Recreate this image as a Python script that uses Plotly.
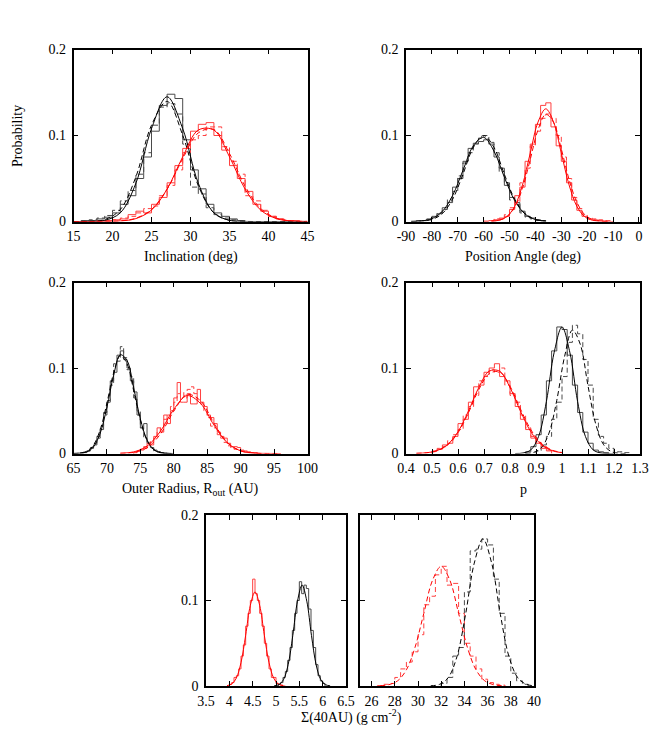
import numpy as np
import plotly.graph_objects as go

# ---------------------------------------------
# data
# ---------------------------------------------

# Inclination (deg), histogram bin width 1
inc_bin = 1.0
inc_black_start = 16.0
inc_black = [0.001, 0.001, 0.003, 0.005, 0.01, 0.02, 0.03, 0.05, 0.075, 0.105, 0.135,
             0.148, 0.143, 0.095, 0.06, 0.038, 0.02, 0.01, 0.006, 0.003, 0.001]
inc_black_dash_start = 16.0
inc_black_dash = [0.001, 0.002, 0.004, 0.007, 0.013, 0.024, 0.036, 0.055, 0.08, 0.112, 0.133,
                  0.137, 0.125, 0.09, 0.04, 0.032, 0.016, 0.008, 0.004, 0.002, 0.001]
inc_red_start = 18.0
inc_red = [0.001, 0.001, 0.002, 0.003, 0.008, 0.012, 0.01, 0.02, 0.028, 0.045, 0.065, 0.085,
           0.105, 0.113, 0.115, 0.1, 0.083, 0.065, 0.05, 0.035, 0.02, 0.012, 0.006, 0.003,
           0.001, 0.001]
inc_red_dash_start = 19.0
inc_red_dash = [0.001, 0.002, 0.004, 0.006, 0.01, 0.015, 0.018, 0.03, 0.042, 0.06, 0.08, 0.095,
                0.1, 0.11, 0.11, 0.087, 0.07, 0.055, 0.03, 0.024, 0.013, 0.006, 0.003, 0.001]
inc_fit_x = [15, 17, 19, 21, 23, 25, 27, 29, 31, 33, 35, 37, 39, 41, 43, 45]
inc_fit_black = [0.0, 0.0001, 0.0013, 0.0101, 0.0445, 0.108, 0.145, 0.108, 0.0445, 0.0101,
                 0.0013, 0.0001, 0.0, 0.0, 0.0, 0.0]
inc_fit_black_dash = [0.0, 0.0002, 0.0022, 0.0139, 0.052, 0.112, 0.1396, 0.1004, 0.0417,
                      0.010, 0.0014, 0.0001, 0.0, 0.0, 0.0, 0.0]
inc_fit_red = [0.0, 0.0, 0.0001, 0.0006, 0.0034, 0.0133, 0.0377, 0.0752, 0.1063, 0.1063,
               0.0752, 0.0377, 0.0133, 0.0034, 0.0006, 0.0001]
inc_fit_red_dash = [0.0, 0.0, 0.0001, 0.0007, 0.0038, 0.014, 0.0375, 0.073, 0.103, 0.107,
                    0.079, 0.041, 0.015, 0.004, 0.0007, 0.0001]

# Position angle (deg), bin width 2
pa_bin = 2.0
pa_black_start = -86.0
pa_black = [0.001, 0.001, 0.003, 0.006, 0.009, 0.016, 0.022, 0.04, 0.05, 0.07, 0.085, 0.091,
            0.093, 0.095, 0.09, 0.075, 0.062, 0.042, 0.028, 0.022, 0.012, 0.006, 0.004, 0.002,
            0.001]
pa_black_dash_start = -86.0
pa_black_dash = [0.0005, 0.001, 0.002, 0.005, 0.01, 0.014, 0.026, 0.035, 0.053, 0.068, 0.08,
                 0.09, 0.097, 0.1, 0.092, 0.08, 0.058, 0.045, 0.025, 0.02, 0.01, 0.005, 0.003,
                 0.001, 0.0005]
pa_red_start = -60.0
pa_red = [0.0005, 0.001, 0.002, 0.004, 0.006, 0.014, 0.03, 0.04, 0.07, 0.09, 0.113, 0.135,
          0.138, 0.11, 0.088, 0.07, 0.045, 0.025, 0.013, 0.006, 0.003, 0.002, 0.001, 0.0005, 0.0]
pa_red_dash_start = -60.0
pa_red_dash = [0.0, 0.001, 0.003, 0.003, 0.008, 0.016, 0.022, 0.045, 0.062, 0.088, 0.105, 0.12,
               0.125, 0.12, 0.1, 0.075, 0.05, 0.028, 0.015, 0.008, 0.004, 0.003, 0.002, 0.001,
               0.001]
pa_fit_black_x = [-88, -84, -80, -76, -72, -68, -64, -60, -56, -52, -48, -44, -40, -36]
pa_fit_black = [0.0001, 0.0007, 0.0033, 0.0116, 0.0302, 0.0594, 0.0879, 0.0978, 0.0818,
                0.0515, 0.0244, 0.0087, 0.0023, 0.0005]
pa_fit_black_dash = [0.0001, 0.0005, 0.0024, 0.0091, 0.0259, 0.0549, 0.0861, 0.1, 0.0861,
                     0.0549, 0.0259, 0.0091, 0.0024, 0.0005]
pa_fit_red_x = [-57, -54, -51, -48, -45, -42, -39, -36, -33, -30, -27, -24, -21, -18, -15, -12]
pa_fit_red = [0.0003, 0.0015, 0.0058, 0.0177, 0.0425, 0.0795, 0.1156, 0.131, 0.1156, 0.0795,
              0.0425, 0.0177, 0.0058, 0.0015, 0.0003, 0.0]
pa_fit_red_dash = [0.0003, 0.0015, 0.0055, 0.0164, 0.0386, 0.0722, 0.1066, 0.1246, 0.1153,
                   0.0844, 0.0489, 0.0224, 0.0081, 0.0023, 0.0005, 0.0001]
pa_tick_vals = [-90, -80, -70, -60, -50, -40, -30, -20, -10, 0]
pa_tick_text = ['-90', '-80', '-70', '-60', '-50', '-40', '-30', '-20', '-10', '0']

# Outer radius (AU), bin width 0.5
rout_bin = 0.5
rout_black_start = 66.0
rout_black = [0.001, 0.001, 0.003, 0.006, 0.01, 0.02, 0.028, 0.048, 0.06, 0.085, 0.095, 0.115,
              0.12, 0.11, 0.1, 0.085, 0.072, 0.045, 0.03, 0.035, 0.012, 0.007, 0.004, 0.002,
              0.001, 0.0005]
rout_black_dash_start = 66.0
rout_black_dash = [0.0005, 0.002, 0.003, 0.007, 0.012, 0.018, 0.032, 0.045, 0.062, 0.08, 0.105,
                   0.108, 0.125, 0.112, 0.098, 0.09, 0.065, 0.05, 0.03, 0.018, 0.013, 0.006,
                   0.003, 0.002, 0.001, 0.0]
rout_red_start = 74.0
rout_red = [0.001, 0.003, 0.004, 0.008, 0.012, 0.01, 0.02, 0.03, 0.025, 0.045, 0.035, 0.05,
            0.065, 0.083, 0.06, 0.06, 0.07, 0.058, 0.058, 0.075, 0.06, 0.055, 0.045, 0.042,
            0.035, 0.025, 0.02, 0.018, 0.012, 0.008, 0.008, 0.007, 0.004, 0.003, 0.002, 0.001,
            0.001, 0.0]
rout_red_dash_start = 74.0
rout_red_dash = [0.001, 0.002, 0.005, 0.006, 0.01, 0.015, 0.018, 0.025, 0.03, 0.04, 0.045,
                 0.055, 0.06, 0.07, 0.072, 0.065, 0.075, 0.078, 0.07, 0.062, 0.058, 0.05, 0.042,
                 0.032, 0.03, 0.022, 0.018, 0.013, 0.009, 0.007, 0.005, 0.004, 0.003, 0.002,
                 0.001, 0.001, 0.0, 0.0]
rout_fit_black_x = [65, 66, 67, 68, 69, 70, 71, 72, 73, 74, 75, 76, 77, 78, 79, 80]
rout_fit_black = [0.0, 0.0004, 0.0019, 0.0079, 0.0239, 0.0541, 0.0914, 0.1155, 0.1089, 0.0768,
                  0.0404, 0.0158, 0.0046, 0.001, 0.0002, 0.0]
rout_fit_black_dash = [0.0001, 0.0006, 0.0027, 0.01, 0.0279, 0.0589, 0.0942, 0.1144, 0.1052,
                       0.0734, 0.0389, 0.0155, 0.0047, 0.0011, 0.0002, 0.0]
rout_fit_red_x = [72, 74, 76, 78, 80, 82, 84, 86, 88, 90, 92, 94, 96]
rout_fit_red = [0.0003, 0.0019, 0.0086, 0.026, 0.0517, 0.0677, 0.0585, 0.0334, 0.0125, 0.0031,
                0.0005, 0.0001, 0.0]
rout_fit_red_dash = [0.0002, 0.0013, 0.0067, 0.0227, 0.0495, 0.069, 0.0618, 0.0355, 0.013,
                     0.0031, 0.0005, 0.0, 0.0]

# p, bin width 0.02
p_bin = 0.02
p_black_start = 0.86
p_black = [0.002, 0.008, 0.022, 0.045, 0.085, 0.12, 0.148, 0.145, 0.115, 0.08, 0.048, 0.025,
           0.012, 0.004, 0.002, 0.001, 0.0]
p_black_dash_start = 0.90
p_black_dash = [0.003, 0.01, 0.02, 0.04, 0.06, 0.09, 0.13, 0.15, 0.14, 0.11, 0.08, 0.04, 0.02,
                0.012, 0.006, 0.002, 0.002, 0.001]
p_red_start = 0.50
p_red = [0.003, 0.005, 0.01, 0.012, 0.02, 0.035, 0.04, 0.06, 0.078, 0.08, 0.095, 0.1, 0.105,
         0.09, 0.085, 0.07, 0.055, 0.04, 0.028, 0.018, 0.012, 0.006, 0.003]
p_red_dash_start = 0.50
p_red_dash = [0.002, 0.006, 0.008, 0.015, 0.022, 0.028, 0.045, 0.055, 0.068, 0.085, 0.09, 0.098,
              0.095, 0.1, 0.08, 0.068, 0.06, 0.045, 0.03, 0.02, 0.013, 0.008, 0.004]
p_fit_black_x = [0.82, 0.85, 0.88, 0.91, 0.94, 0.97, 1.0, 1.03, 1.06, 1.09, 1.12, 1.15, 1.18]
p_fit_black = [0.0, 0.0006, 0.0042, 0.02, 0.0608, 0.1185, 0.148, 0.1185, 0.0608, 0.02, 0.0042,
               0.0006, 0.0]
p_fit_black_dash_x = [0.86, 0.89, 0.92, 0.95, 0.98, 1.01, 1.04, 1.07, 1.10, 1.13, 1.16, 1.19,
                      1.22, 1.25]
p_fit_black_dash = [0.0002, 0.0012, 0.0064, 0.0239, 0.0623, 0.1135, 0.1443, 0.128, 0.0792,
                    0.0342, 0.0103, 0.0022, 0.0003, 0.0]
p_fit_red_x = [0.44, 0.48, 0.52, 0.56, 0.60, 0.64, 0.68, 0.72, 0.76, 0.80, 0.84, 0.88, 0.92,
               0.96, 1.0]
p_fit_red = [0.0002, 0.0009, 0.0035, 0.0105, 0.0255, 0.0496, 0.0772, 0.0963, 0.0963, 0.0772,
             0.0496, 0.0255, 0.0105, 0.0035, 0.0009]
p_fit_red_dash = [0.0002, 0.0009, 0.0033, 0.0099, 0.0243, 0.0475, 0.0748, 0.0934, 0.0954,
                  0.0787, 0.0522, 0.0279, 0.012, 0.0042, 0.0012]

# Sigma(40AU), left panel (solid), bin width 0.05
sig_bin = 0.05
sig_red_start = 4.0
sig_red = [0.002, 0.004, 0.01, 0.012, 0.02, 0.035, 0.048, 0.07, 0.085, 0.1, 0.125, 0.108,
           0.1, 0.085, 0.07, 0.05, 0.035, 0.02, 0.01, 0.01, 0.003, 0.002, 0.001, 0.0]
sig_black_start = 5.05
sig_black = [0.002, 0.004, 0.01, 0.017, 0.03, 0.045, 0.065, 0.085, 0.1, 0.122, 0.108, 0.118,
             0.114, 0.09, 0.065, 0.045, 0.025, 0.012, 0.006, 0.003]
sig_fit_red_x = [3.95, 4.05, 4.15, 4.25, 4.35, 4.45, 4.55, 4.65, 4.75, 4.85, 4.95, 5.05, 5.15]
sig_fit_red = [0.0004, 0.0023, 0.0093, 0.0274, 0.0594, 0.0943, 0.11, 0.0943, 0.0594, 0.0274,
               0.0093, 0.0023, 0.0004]
sig_fit_black_x = [4.96, 5.06, 5.16, 5.26, 5.36, 5.46, 5.56, 5.66, 5.76, 5.86, 5.96, 6.06, 6.16]
sig_fit_black = [0.0002, 0.0016, 0.0074, 0.0249, 0.0591, 0.0992, 0.118, 0.0992, 0.0591, 0.0249,
                 0.0074, 0.0016, 0.0002]

# Sigma(40AU), right panel (dashed), bin width 0.5
sig2_bin = 0.5
sig2_red_start = 26.5
sig2_red = [0.0005, 0.002, 0.003, 0.01, 0.02, 0.028, 0.04, 0.06, 0.095, 0.105, 0.13, 0.14,
            0.118, 0.12, 0.085, 0.05, 0.035, 0.02, 0.008, 0.004, 0.002, 0.001]
sig2_black_start = 32.0
sig2_black = [0.003, 0.01, 0.035, 0.045, 0.11, 0.158, 0.16, 0.172, 0.165, 0.125, 0.085, 0.035,
              0.015, 0.006, 0.002]
sig2_fit_red_x = [26.75, 27.5, 28.25, 29.0, 29.75, 30.5, 31.25, 32.0, 32.75, 33.5, 34.25, 35.0,
                  35.75, 36.5, 37.25]
sig2_fit_red = [0.0003, 0.0016, 0.0061, 0.0189, 0.0455, 0.0849, 0.1236, 0.14, 0.1236, 0.0849,
                0.0455, 0.0189, 0.0061, 0.0016, 0.0003]
sig2_fit_black_x = [31.1, 31.85, 32.6, 33.35, 34.1, 34.85, 35.6, 36.35, 37.1, 37.85, 38.6,
                    39.35, 40.1]
sig2_fit_black = [0.0003, 0.0019, 0.0097, 0.034, 0.0837, 0.1437, 0.172, 0.1437, 0.0837, 0.034,
                  0.0097, 0.0019, 0.0003]

# ---------------------------------------------
# layout, in pixels of the 664 x 730 page
# (the html body adds an 8 px margin round the figure)
# ---------------------------------------------
PAGE_W, PAGE_H = 664, 730
OFF = 8
W, H = PAGE_W - OFF, PAGE_H - OFF
FONT = 'Liberation Serif, Times New Roman, serif'
BLACK = '#000000'
RED = '#ff0000'
HIST_BLACK = '#4a4a4a'
HIST_RED = '#ff4040'
DASH = '5px,3px'


def fx(px):
    return (px - OFF) / W


def fy(py):
    return 1 - (py - OFF) / H


# panel boxes: left, right, top, bottom, x range, x dtick, show y labels
panels = [
    (73.5, 307.5, 49.5, 221.5, [15, 45], 5, True),
    (406, 640, 49.5, 221.5, [-90, 0.4], 10, True),
    (73.5, 307.5, 282.5, 453.5, [65, 100], 5, True),
    (406, 640, 282.5, 453.5, [0.4, 1.3], 0.1, True),
    (206, 346, 515, 686, [3.5, 6.5], 0.5, True),
    (360, 534, 515, 686, [25, 40], 2, False),
]


def step_xy(start, width, values):
    edges = start + width * np.arange(len(values) + 1)
    xs = np.concatenate([[edges[0]], edges])
    ys = [0.0] + list(values) + [0.0]
    return xs, ys


fig = go.Figure()


def add_hist(panel, start, width, values, color, dashed):
    xs, ys = step_xy(start, width, values)
    fig.add_trace(go.Scatter(
        x=xs, y=ys, mode='lines', line_shape='hv',
        line=dict(color=color, width=1, dash=DASH if dashed else 'solid'),
        xaxis='x%d' % panel, yaxis='y%d' % panel, hoverinfo='skip'))


def add_fit(panel, xs, ys, color, dashed):
    fig.add_trace(go.Scatter(
        x=xs, y=ys, mode='lines', line_shape='spline',
        line=dict(color=color, width=1, dash=DASH if dashed else 'solid', smoothing=1.0),
        xaxis='x%d' % panel, yaxis='y%d' % panel, hoverinfo='skip'))


# panel 1
add_hist(1, inc_black_start, inc_bin, inc_black, HIST_BLACK, False)
add_hist(1, inc_black_dash_start, inc_bin, inc_black_dash, HIST_BLACK, True)
add_hist(1, inc_red_start, inc_bin, inc_red, HIST_RED, False)
add_hist(1, inc_red_dash_start, inc_bin, inc_red_dash, HIST_RED, True)
add_fit(1, inc_fit_x, inc_fit_black, BLACK, False)
add_fit(1, inc_fit_x, inc_fit_black_dash, BLACK, True)
add_fit(1, inc_fit_x, inc_fit_red, RED, False)
add_fit(1, inc_fit_x, inc_fit_red_dash, RED, True)

# panel 2
add_hist(2, pa_black_start, pa_bin, pa_black, HIST_BLACK, False)
add_hist(2, pa_black_dash_start, pa_bin, pa_black_dash, HIST_BLACK, True)
add_hist(2, pa_red_start, pa_bin, pa_red, HIST_RED, False)
add_hist(2, pa_red_dash_start, pa_bin, pa_red_dash, HIST_RED, True)
add_fit(2, pa_fit_black_x, pa_fit_black, BLACK, False)
add_fit(2, pa_fit_black_x, pa_fit_black_dash, BLACK, True)
add_fit(2, pa_fit_red_x, pa_fit_red, RED, False)
add_fit(2, pa_fit_red_x, pa_fit_red_dash, RED, True)

# panel 3
add_hist(3, rout_black_start, rout_bin, rout_black, HIST_BLACK, False)
add_hist(3, rout_black_dash_start, rout_bin, rout_black_dash, HIST_BLACK, True)
add_hist(3, rout_red_start, rout_bin, rout_red, HIST_RED, False)
add_hist(3, rout_red_dash_start, rout_bin, rout_red_dash, HIST_RED, True)
add_fit(3, rout_fit_black_x, rout_fit_black, BLACK, False)
add_fit(3, rout_fit_black_x, rout_fit_black_dash, BLACK, True)
add_fit(3, rout_fit_red_x, rout_fit_red, RED, False)
add_fit(3, rout_fit_red_x, rout_fit_red_dash, RED, True)

# panel 4
add_hist(4, p_black_start, p_bin, p_black, HIST_BLACK, False)
add_hist(4, p_black_dash_start, p_bin, p_black_dash, HIST_BLACK, True)
add_hist(4, p_red_start, p_bin, p_red, HIST_RED, False)
add_hist(4, p_red_dash_start, p_bin, p_red_dash, HIST_RED, True)
add_fit(4, p_fit_black_x, p_fit_black, BLACK, False)
add_fit(4, p_fit_black_dash_x, p_fit_black_dash, BLACK, True)
add_fit(4, p_fit_red_x, p_fit_red, RED, False)
add_fit(4, p_fit_red_x, p_fit_red_dash, RED, True)

# panel 5
add_hist(5, sig_red_start, sig_bin, sig_red, HIST_RED, False)
add_hist(5, sig_black_start, sig_bin, sig_black, HIST_BLACK, False)
add_fit(5, sig_fit_red_x, sig_fit_red, RED, False)
add_fit(5, sig_fit_black_x, sig_fit_black, BLACK, False)

# panel 6
add_hist(6, sig2_red_start, sig2_bin, sig2_red, HIST_RED, True)
add_hist(6, sig2_black_start, sig2_bin, sig2_black, HIST_BLACK, True)
add_fit(6, sig2_fit_red_x, sig2_fit_red, RED, True)
add_fit(6, sig2_fit_black_x, sig2_fit_black, BLACK, True)

layout = dict(
    width=W, height=H, margin=dict(l=0, r=0, t=0, b=0, autoexpand=False),
    paper_bgcolor='white', plot_bgcolor='white', showlegend=False,
    font=dict(family=FONT, size=14, color='black'),
)
axis_common = dict(
    showline=True, linecolor='black', linewidth=1.5, mirror='ticks',
    ticks='inside', ticklen=5, tickwidth=1, tickcolor='black',
    showgrid=False, zeroline=False, automargin=False, tickangle=0,
    ticklabeloverflow='allow',
    tickfont=dict(family=FONT, size=14, color='black'),
)
for i, (l, r, t, b, xr, dt, ylab) in enumerate(panels, start=1):
    layout['xaxis%d' % i] = dict(
        axis_common, domain=[fx(l), fx(r)], range=xr, dtick=dt, tick0=0,
        anchor='y%d' % i, ticklabelstandoff=1)
    layout['yaxis%d' % i] = dict(
        axis_common, domain=[fy(b), fy(t)], range=[0, 0.2], dtick=0.1,
        anchor='x%d' % i, showticklabels=ylab, ticklabelstandoff=3)
layout['xaxis2'].update(tickmode='array', tickvals=pa_tick_vals, ticktext=pa_tick_text)
fig.update_layout(**layout)

labels = [
    ('Probability', 18, 136, -90),
    ('Inclination (deg)', 190.5, 257, 0),
    ('Position Angle (deg)', 523, 257, 0),
    ('Outer Radius, R<sub>out</sub> (AU)', 190.5, 490, 0),
    ('p', 523, 490, 0),
    ('\u03a3(40AU) (g cm<sup>-2</sup>)', 351, 716, 0),
]
for text, x, y, ang in labels:
    fig.add_annotation(text=text, x=fx(x), y=fy(y), xref='paper', yref='paper',
                       showarrow=False, textangle=ang, xanchor='center', yanchor='middle',
                       font=dict(family=FONT, size=14, color='black'))

fig.write_html('out.html')
